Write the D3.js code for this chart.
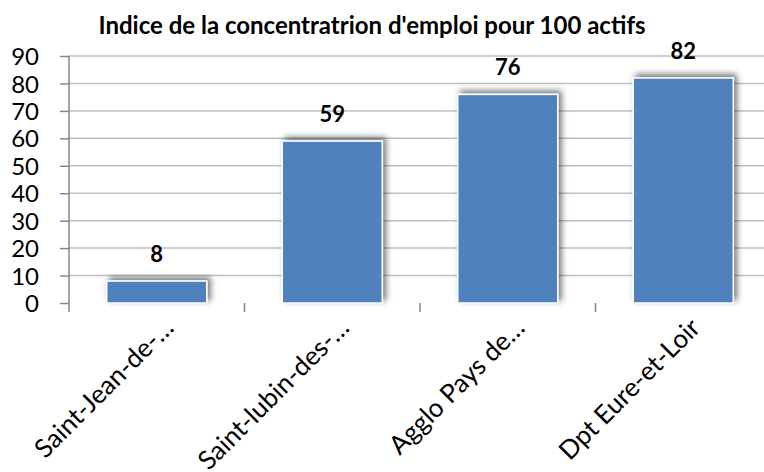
<!doctype html>
<html>
  <head>
    <meta charset="utf-8">
    <title>Indice de la concentration d'emploi</title>
    <script src="https://cdnjs.cloudflare.com/ajax/libs/d3/7.8.5/d3.min.js"></script>
    <style>
      body { margin: 0; background: #fff; }
      svg { display: block; font-family: Lato, "Open Sans", sans-serif; }
    </style>
  </head>
  <body>
    <div id="chart"></div>
    <script>
      // data
      const categories = ['Saint-Jean-de-…', 'Saint-lubin-des-…', 'Agglo Pays de…', 'Dpt Eure-et-Loir'];
      const values = [8, 59, 76, 82];
      const yTicks = [0, 10, 20, 30, 40, 50, 60, 70, 80, 90];
      const title = "Indice de la concentratrion d'emploi pour 100 actifs";

      const width = 764, height = 472;
      const plotLeft = 69, plotRight = 771, plotTop = 56, plotBottom = 303;

      const svg = d3.select('#chart').append('svg')
        .attr('width', width)
        .attr('height', height);

      // shadows
      const defs = svg.append('defs');
      defs.append('filter')
        .attr('id', 'barShadow')
        .attr('x', '-30%').attr('y', '-30%')
        .attr('width', '160%').attr('height', '160%')
        .append('feDropShadow')
        .attr('dx', 3).attr('dy', -3)
        .attr('stdDeviation', 3)
        .attr('flood-color', '#000')
        .attr('flood-opacity', 0.55);
      defs.append('filter')
        .attr('id', 'axisShadow')
        .attr('x', '-5%').attr('y', '-200%')
        .attr('width', '110%').attr('height', '600%')
        .append('feDropShadow')
        .attr('dx', 0).attr('dy', 3)
        .attr('stdDeviation', 2)
        .attr('flood-color', '#000')
        .attr('flood-opacity', 0.4);

      const x = d3.scaleBand().domain(categories).range([plotLeft, plotRight]).padding(0);
      const y = d3.scaleLinear().domain([0, 90]).range([plotBottom, plotTop]);
      const barW = x.bandwidth() * 0.57;

      // gridlines
      svg.append('g')
        .selectAll('line')
        .data(yTicks.filter(d => d > 0))
        .join('line')
        .attr('x1', plotLeft).attr('x2', width)
        .attr('y1', d => y(d)).attr('y2', d => y(d))
        .attr('stroke', '#c0c0c0')
        .attr('stroke-width', 1.5);

      // y axis
      const yAxis = svg.append('g')
        .attr('transform', `translate(${plotLeft},0)`)
        .call(d3.axisLeft(y).tickValues(yTicks).tickSize(9).tickPadding(21));
      yAxis.select('.domain').remove();
      yAxis.selectAll('.tick line').attr('stroke', '#868686').attr('stroke-width', 1.5);
      yAxis.selectAll('.tick text')
        .attr('font-family', 'Lato, sans-serif')
        .attr('font-size', 24)
        .attr('fill', '#000')
        .attr('dy', '0.36em');
      yAxis.append('line')
        .attr('x1', 0).attr('x2', 0)
        .attr('y1', plotTop).attr('y2', plotBottom + 9)
        .attr('stroke', '#868686').attr('stroke-width', 1.5);

      // bars
      svg.append('g')
        .selectAll('rect')
        .data(values)
        .join('rect')
        .attr('x', (d, i) => x(categories[i]) + (x.bandwidth() - barW) / 2)
        .attr('y', d => y(d))
        .attr('width', barW)
        .attr('height', d => y(0) - y(d))
        .attr('fill', '#4f81bd')
        .attr('stroke', '#fff')
        .attr('stroke-width', 1.5)
        .attr('filter', 'url(#barShadow)');

      // x axis
      const xAxis = svg.append('g');
      xAxis.append('line')
        .attr('x1', plotLeft).attr('x2', width)
        .attr('y1', plotBottom).attr('y2', plotBottom)
        .attr('stroke', '#868686').attr('stroke-width', 2)
        .attr('filter', 'url(#axisShadow)');
      xAxis.selectAll('line.tk')
        .data(categories.slice(1))
        .join('line')
        .attr('class', 'tk')
        .attr('x1', d => x(d)).attr('x2', d => x(d))
        .attr('y1', plotBottom).attr('y2', plotBottom + 9)
        .attr('stroke', '#868686').attr('stroke-width', 1.5);

      // category labels
      svg.append('g')
        .selectAll('text')
        .data(categories)
        .join('text')
        .attr('transform', d => `translate(${x(d) + x.bandwidth() / 2 + 12},${plotBottom + 20}) rotate(-45)`)
        .attr('text-anchor', 'end')
        .attr('dy', '0.35em')
        .attr('font-size', 26)
        .text(d => d);

      // value labels
      svg.append('g')
        .selectAll('text')
        .data(values)
        .join('text')
        .attr('x', (d, i) => x(categories[i]) + x.bandwidth() / 2)
        .attr('y', d => y(d) - 19)
        .attr('text-anchor', 'middle')
        .attr('font-size', 22)
        .attr('font-weight', 'bold')
        .text(d => d);

      // title
      svg.append('text')
        .attr('x', 372)
        .attr('y', 34)
        .attr('text-anchor', 'middle')
        .attr('font-size', 24)
        .attr('font-weight', 'bold')
        .text(title);
    </script>
  </body>
</html>
